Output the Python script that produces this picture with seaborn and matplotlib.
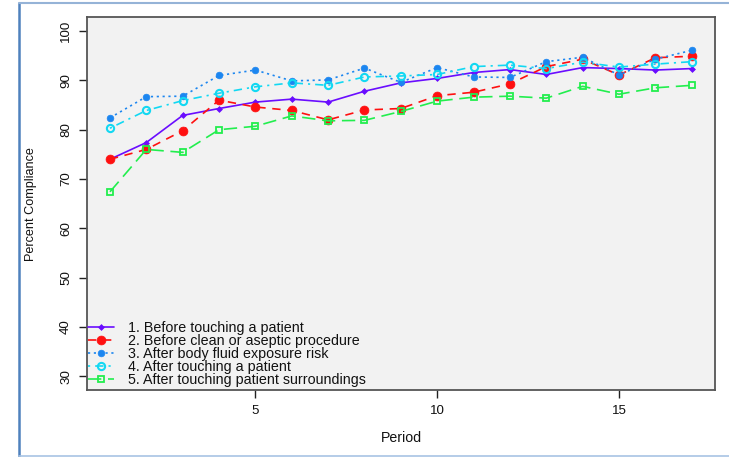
import matplotlib
matplotlib.use("Agg")
import matplotlib.pyplot as plt
from matplotlib.lines import Line2D
import seaborn as sns
import pandas as pd

period = list(range(1, 18))
s1_before_patient = [74.0, 77.4, 82.9, 84.3, 85.6, 86.2, 85.6, 87.8, 89.5, 90.4, 91.6, 92.2, 91.2, 92.6, 92.4, 92.1, 92.4]
s2_before_aseptic = [74.0, 76.0, 79.8, 86.0, 84.6, 83.9, 82.0, 84.0, 84.3, 86.9, 87.6, 89.3, 92.8, 94.3, 91.1, 94.6, 94.9]
s3_body_fluid = [82.4, 86.7, 86.8, 91.0, 92.1, 89.9, 90.1, 92.5, 89.6, 92.6, 90.7, 90.6, 93.8, 94.7, 91.1, 94.3, 96.1]
s4_after_patient = [80.3, 83.9, 85.9, 87.4, 88.7, 89.5, 89.0, 90.7, 90.9, 91.2, 92.8, 93.1, 92.4, 93.7, 92.7, 93.3, 93.8]
s5_surroundings = [67.4, 76.0, 75.4, 80.0, 80.7, 82.8, 81.8, 81.9, 83.7, 85.8, 86.6, 86.8, 86.4, 88.8, 87.2, 88.5, 89.0]

labels = ["1. Before touching a patient",
          "2. Before clean or aseptic procedure",
          "3. After body fluid exposure risk",
          "4. After touching a patient",
          "5. After touching patient surroundings"]
x_ticks = [5, 10, 15]
y_ticks = [30, 40, 50, 60, 70, 80, 90, 100]

sns.set_theme(style="white")
plt.rcParams['font.family'] = ['Liberation Sans', 'DejaVu Sans']

W, H = 729, 457
fig = plt.figure(figsize=(W / 100, H / 100), dpi=100)
fig.patch.set_facecolor("white")
ax_l, ax_r, ax_t, ax_b = 86.7, 715, 17.3, 390
ax = fig.add_axes([ax_l / W, 1 - ax_b / H, (ax_r - ax_l) / W, (ax_b - ax_t) / H])
ax.set_facecolor("#F2F2F2")

series = [s1_before_patient, s2_before_aseptic, s3_body_fluid, s4_after_patient, s5_surroundings]
styles = [
    dict(color="#6A0DFF", marker="D", markersize=3.0, linestyle="-", mfc="#6A0DFF", mec="#6A0DFF", mew=0.5),
    dict(color="#FF1010", marker="o", markersize=6.4, linestyle=(0, (5, 4)), mfc="#FF1010", mec="#FF1010", mew=0.5),
    dict(color="#1C86F0", marker="o", markersize=4.8, linestyle=(0, (1.3, 2.2)), mfc="#1C86F0", mec="#1C86F0", mew=0.5),
    dict(color="#12D8F2", marker="o", markersize=5.2, linestyle=(0, (1.3, 3, 5, 3)), mfc="none", mec="#12D8F2", mew=1.5),
    dict(color="#22EE4E", marker="s", markersize=4.6, linestyle=(0, (8, 4)), mfc="none", mec="#22EE4E", mew=1.3),
]

for vals, lab, st in zip(series, labels, styles):
    df = pd.DataFrame({"Period": period, "Value": vals})
    sns.lineplot(data=df, x="Period", y="Value", ax=ax, label=lab, linewidth=1.2, **st)

ax.set_xlim(0.36, 17.64)
ax.set_ylim(27.2, 102.8)
ax.set_xticks(x_ticks)
ax.set_yticks(y_ticks)
ax.set_xticklabels([str(v) for v in x_ticks], fontsize=9.6)
ax.set_yticklabels([str(v) for v in y_ticks], fontsize=9.6, rotation=90, va="center")
ax.tick_params(axis="both", direction="out", length=5.5, width=1.0, color="#222222", pad=5,
               bottom=True, left=True, top=False, right=False, labelcolor="#111111")
ax.set_xlabel("")
ax.set_ylabel("")
for sp in ax.spines.values():
    sp.set_color("#555555")
    sp.set_linewidth(1.3)
    sp.set_visible(True)

leg = ax.legend(loc="lower left", bbox_to_anchor=(0.002, 0.009), frameon=False, fontsize=10.3,
                handlelength=1.8, handletextpad=1.0, labelspacing=-0.07, borderaxespad=0.0,
                borderpad=0.0)
for t in leg.get_texts():
    t.set_color("#111111")

fig.text(401 / W, 1 - 437.7 / H, "Period", ha="center", va="center", fontsize=10.2, color="#111111")
fig.text(31 / W, 1 - 204 / H, "Percent Compliance", ha="center", va="center", rotation=90,
         fontsize=9.1, color="#111111")

# outer blue frame
fig.add_artist(Line2D([19 / W, 19 / W], [1 - 3 / H, 1 - 456 / H], transform=fig.transFigure,
                      color="#4F81BD", linewidth=1.8))
fig.add_artist(Line2D([19 / W, 1.0], [1 - 3 / H, 1 - 3 / H], transform=fig.transFigure,
                      color="#95B3D7", linewidth=1.5))
fig.add_artist(Line2D([19 / W, 1.0], [1 - 456 / H, 1 - 456 / H], transform=fig.transFigure,
                      color="#A8C4E4", linewidth=1.2))

fig.savefig("out.png", dpi=100, facecolor="white")
